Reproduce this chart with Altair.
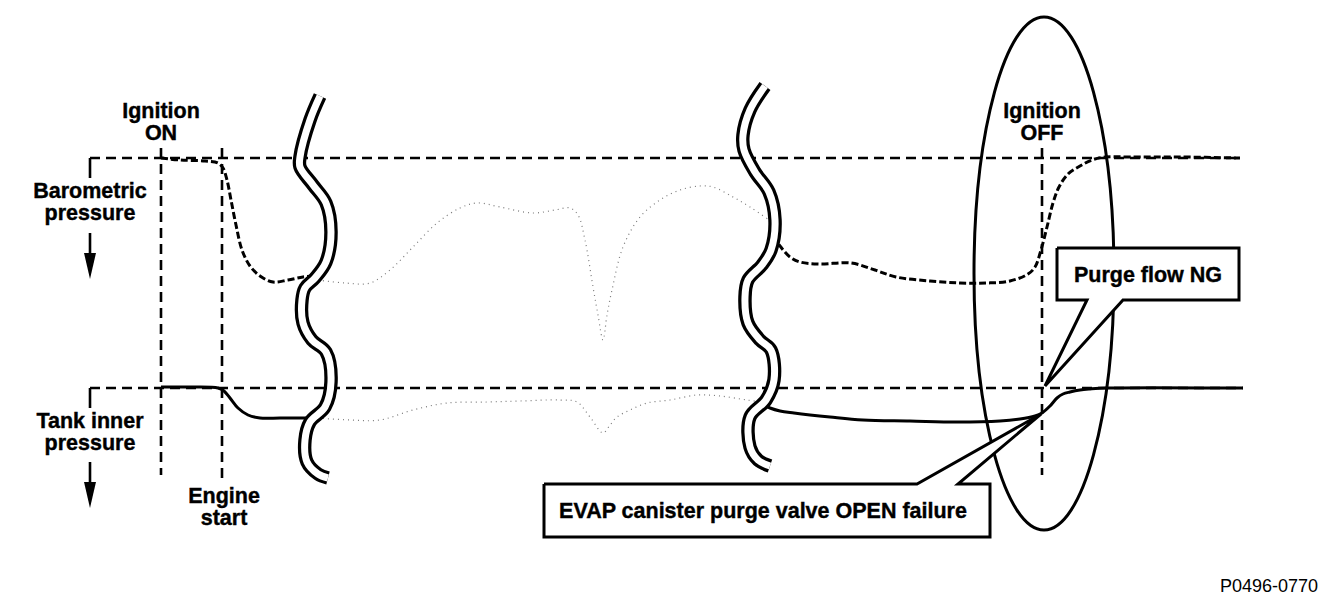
import altair as alt
import pandas as pd

# ---------------- data (image pixel units) ----------------
# horizontal reference levels
REF_Y = [158, 388]
REF_X0 = [90, 90]
REF_X1 = [1240, 1243]
CORNER_X = [90, 90]
CORNER_Y0 = [158, 388]
CORNER_Y1 = [178, 408]

# event markers (Ignition ON, Engine start, Ignition OFF)
EVENT_X = [161, 222, 1042]
EVENT_Y0 = [148, 148, 148]
EVENT_Y1 = [475, 478, 475]

# downward arrows
ARROW_X = [90, 90]
ARROW_Y0 = [233, 462]
ARROW_TIP = [279, 508]

# barometric pressure curve (left part / right part)
BARO_L_X = [161, 180, 205, 218, 223, 227, 231, 236, 242, 250, 260, 273, 288, 303, 316]
BARO_L_Y = [158, 160, 161, 163, 168, 180, 200, 225, 250, 266, 276, 282, 280, 277, 276]
BARO_R_X = [773, 780, 790, 800, 820, 851, 875, 896, 930, 960, 986, 1010, 1028, 1035, 1041,
            1047, 1053, 1059, 1068, 1080, 1092, 1105, 1130, 1180, 1240]
BARO_R_Y = [236, 246, 257, 262, 264, 263, 270, 277, 281, 283, 283, 281, 274, 267, 250,
            227, 203, 187, 174, 166, 160, 157, 157, 157, 158]

# tank inner pressure curve
TANK_L_X = [161, 190, 218, 224, 230, 238, 248, 260, 280, 300, 314]
TANK_L_Y = [387, 387, 388, 391, 398, 408, 415, 418, 418, 418, 418]
TANK_R_X = [762, 770, 780, 794, 830, 863, 910, 957, 1000, 1020, 1035, 1042, 1050, 1057,
            1063, 1070, 1080, 1090, 1107, 1243]
TANK_R_Y = [404, 408, 411, 413, 417, 420, 421, 422, 421, 419, 416, 413, 406, 398,
            394, 392, 390, 389, 388, 388]

# faint dotted traces in the omitted section
BARO_DOT_X = [318, 345, 370, 390, 413, 437, 460, 477, 500, 533, 555, 570, 578, 585, 593,
              598, 603, 607, 612, 623, 640, 660, 680, 700, 713, 733, 750, 772]
BARO_DOT_Y = [280, 283, 283, 270, 247, 223, 208, 203, 207, 213, 210, 208, 215, 240, 287,
              315, 340, 315, 290, 247, 217, 200, 190, 186, 187, 197, 207, 222]
TANK_DOT_X = [318, 350, 380, 413, 447, 487, 520, 560, 577, 590, 603, 610, 617, 630, 647,
              670, 697, 720, 747, 762]
TANK_DOT_Y = [418, 420, 420, 410, 403, 402, 401, 400, 402, 417, 433, 425, 417, 410, 403,
              400, 395, 396, 400, 402]

# break marks (centre paths of the double wavy lines)
SQUIG_L_X = [320, 310, 300, 300, 313, 326, 331, 326, 315, 305, 302, 303, 312, 326, 331,
             325, 310, 305, 307, 318, 328]
SQUIG_L_Y = [96, 120, 157, 167, 185, 203, 232, 262, 278, 288, 300, 323, 340, 352, 382,
             407, 422, 440, 462, 474, 478]
SQUIG_R_X = [765, 750, 743, 744, 755, 769, 775, 771, 762, 748, 745, 748, 760, 771, 774,
             766, 750, 750, 758, 770]
SQUIG_R_Y = [86, 110, 135, 150, 172, 192, 220, 250, 265, 280, 297, 323, 340, 350, 380,
             400, 417, 447, 460, 466]

# ellipse around the Ignition OFF region: centre x, centre y, radius x, radius y
ELLIPSE_CX = [1044]
ELLIPSE_CY = [273.5]
ELLIPSE_RX = [70]
ELLIPSE_RY = [256.5]

# callout outlines (box + pointer)
PURGE_X = [1057, 1239, 1239, 1123, 1045, 1087, 1057, 1057]
PURGE_Y = [248, 248, 300, 300, 386, 300, 300, 248]
EVAP_X = [544, 917, 1041, 958, 990, 990, 544, 544]
EVAP_Y = [484, 484, 414, 484, 484, 537, 537, 484]

# labels (text, centre x, first-line baseline y); "\n" separates lines
LABEL_TEXT = ["Ignition\nON", "Ignition\nOFF", "Barometric\npressure",
              "Tank inner\npressure", "Engine\nstart", "Purge flow NG",
              "EVAP canister purge valve OPEN failure"]
LABEL_X = [161, 1042, 90, 90, 224, 1148, 763]
LABEL_Y = [117.5, 117.5, 197.5, 427.5, 502.5, 282, 518]

CODE_TEXT = ["P0496-0770"]
CODE_X = [1318]
CODE_Y = [592]

# ---------------- chart ----------------
W, H = 1328, 596
XS = alt.Scale(domain=[8, 8 + W], nice=False, zero=False)
YS = alt.Scale(domain=[8, 8 + H], nice=False, zero=False, reverse=True)
FONT = "Liberation Sans"


def xq(f="x"):
    return alt.X(f"{f}:Q", scale=XS, axis=None)


def yq(f="y"):
    return alt.Y(f"{f}:Q", scale=YS, axis=None)


def path_df(xs, ys):
    return pd.DataFrame({"x": xs, "y": ys, "i": list(range(len(xs)))})


def line(xs, ys, **kw):
    return alt.Chart(path_df(xs, ys)).mark_line(**kw).encode(
        x=xq(), y=yq(), order=alt.Order("i:Q"))


layers = []

# reference horizontal dashed lines
ref_df = pd.DataFrame({"x": REF_X0, "x2": REF_X1, "y": REF_Y})
layers.append(alt.Chart(ref_df).mark_rule(color="black", strokeWidth=2.6, strokeDash=[10, 6])
              .encode(x=xq(), x2="x2:Q", y=yq()))
corner_df = pd.DataFrame({"x": CORNER_X, "y": CORNER_Y0, "y2": CORNER_Y1})
layers.append(alt.Chart(corner_df).mark_rule(color="black", strokeWidth=2.6)
              .encode(x=xq(), y=yq(), y2="y2:Q"))
# event vertical dashed lines
ev_df = pd.DataFrame({"x": EVENT_X, "y": EVENT_Y0, "y2": EVENT_Y1})
layers.append(alt.Chart(ev_df).mark_rule(color="black", strokeWidth=2.6, strokeDash=[10, 6])
              .encode(x=xq(), y=yq(), y2="y2:Q"))

# ellipse
ratio = ELLIPSE_RX[0] / ELLIPSE_RY[0]
ell_path = f"M0,-1 A{ratio:.4f},1 0 1,1 0,1 A{ratio:.4f},1 0 1,1 0,-1 Z"
ell_df = pd.DataFrame({"x": ELLIPSE_CX, "y": ELLIPSE_CY})
layers.append(alt.Chart(ell_df).mark_point(shape=ell_path, size=(2 * ELLIPSE_RY[0]) ** 2,
                                           filled=False, stroke="black", strokeWidth=3,
                                           opacity=1)
              .encode(x=xq(), y=yq()))

# dotted faint traces
layers.append(line(BARO_DOT_X, BARO_DOT_Y, color="#7a7a7a", strokeWidth=1.2,
                   strokeDash=[1, 4], interpolate="catmull-rom"))
layers.append(line(TANK_DOT_X, TANK_DOT_Y, color="#7a7a7a", strokeWidth=1.2,
                   strokeDash=[1, 4], interpolate="catmull-rom"))

# pressure curves
layers.append(line(BARO_L_X, BARO_L_Y, color="black", strokeWidth=3,
                   strokeDash=[7, 3], interpolate="catmull-rom"))
layers.append(line(BARO_R_X, BARO_R_Y, color="black", strokeWidth=3,
                   strokeDash=[7, 3], interpolate="catmull-rom"))
layers.append(line(TANK_L_X, TANK_L_Y, color="black", strokeWidth=3,
                   interpolate="catmull-rom"))
layers.append(line(TANK_R_X, TANK_R_Y, color="black", strokeWidth=3,
                   interpolate="catmull-rom"))

# break marks: thick black stroke with white core -> double wavy line
for sx, sy in [(SQUIG_L_X, SQUIG_L_Y), (SQUIG_R_X, SQUIG_R_Y)]:
    layers.append(line(sx, sy, color="black", strokeWidth=13.5, interpolate="catmull-rom"))
    layers.append(line(sx, sy, color="white", strokeWidth=7, interpolate="catmull-rom"))

# callouts
for cx, cy in [(PURGE_X, PURGE_Y), (EVAP_X, EVAP_Y)]:
    layers.append(line(cx, cy, stroke="black", fill="white", strokeWidth=3,
                       strokeJoin="miter"))

# arrows
arr_df = pd.DataFrame({"x": ARROW_X, "y": ARROW_Y0, "y2": [t - 22 for t in ARROW_TIP],
                       "tip": ARROW_TIP})
layers.append(alt.Chart(arr_df).mark_rule(color="black", strokeWidth=2.6)
              .encode(x=xq(), y=yq(), y2="y2:Q"))
layers.append(alt.Chart(arr_df).mark_point(shape="M-0.46,-1 L0.46,-1 L0,1 Z", size=676,
                                           filled=True, color="black", opacity=1, yOffset=-13)
              .encode(x=xq(), y=yq("tip")))

# labels
lab_df = pd.DataFrame({"t": LABEL_TEXT, "x": LABEL_X, "y": LABEL_Y})
layers.append(alt.Chart(lab_df).mark_text(font=FONT, fontSize=21.5, fontWeight="bold",
                                          align="center", baseline="alphabetic",
                                          lineBreak="\n", lineHeight=22,
                                          color="black", stroke="black", strokeWidth=0.4)
              .encode(x=xq(), y=yq(), text="t:N"))
code_df = pd.DataFrame({"t": CODE_TEXT, "x": CODE_X, "y": CODE_Y})
layers.append(alt.Chart(code_df).mark_text(font=FONT, fontSize=18, align="right",
                                           baseline="alphabetic", color="black")
              .encode(x=xq(), y=yq(), text="t:N"))

chart = alt.layer(*layers).properties(width=W, height=H, padding=0, background="white") \
    .configure_view(stroke=None)

chart.save("out.html", embed_options={"renderer": "svg", "actions": False})
